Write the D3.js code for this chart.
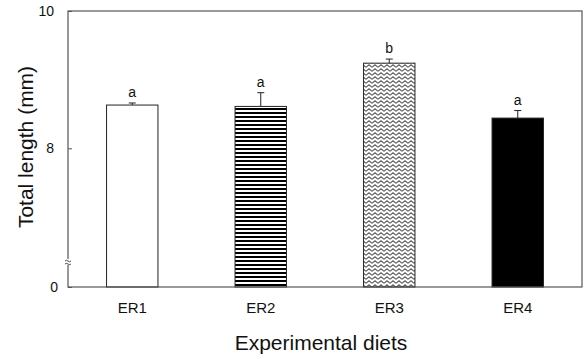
<!DOCTYPE html>
<html>
<head>
<meta charset="utf-8">
<script src="https://cdn.jsdelivr.net/npm/d3@7"></script>
<style>
  body { margin: 0; background: #fff; }
  text { font-family: "Liberation Sans", Arial, sans-serif; fill: #111; }
</style>
</head>
<body>
<svg width="585" height="359"></svg>
<script>
// data
const diets = ['ER1', 'ER2', 'ER3', 'ER4'];
const means = [8.63, 8.61, 9.24, 8.44];
const sds = [0.03, 0.2, 0.06, 0.11];
const letters = ['a', 'a', 'b', 'a'];
const yTicks = [0, 8, 10];

const svg = d3.select('svg');
const margin = {top: 11, right: 3, bottom: 72, left: 68};
const width = 585, height = 359;

// broken axis : 0 -> 8 squeezed in the same room as 8 -> 10
const yScale = d3.scaleLinear()
  .domain([0, 8, 10])
  .range([height - margin.bottom, 148.3, margin.top]);

const xScale = d3.scaleBand()
  .domain(diets)
  .range([margin.left, width - margin.right])
  .paddingInner(0.6)
  .paddingOuter(0.3);

const defs = svg.append('defs');

// horizontal stripes for ER2
const stripes = defs.append('pattern')
  .attr('id', 'stripes')
  .attr('patternUnits', 'userSpaceOnUse')
  .attr('width', 8).attr('height', 4);
stripes.append('rect').attr('width', 8).attr('height', 4).attr('fill', '#fff');
stripes.append('rect').attr('y', 0).attr('width', 8).attr('height', 2).attr('fill', '#000');

// zigzag for ER3
const zig = defs.append('pattern')
  .attr('id', 'zigzag')
  .attr('patternUnits', 'userSpaceOnUse')
  .attr('width', 6).attr('height', 4);
zig.append('rect').attr('width', 6).attr('height', 4).attr('fill', '#fff');
zig.append('path')
  .attr('d', 'M0,3.3 L3,0.8 L6,3.3')
  .attr('fill', 'none')
  .attr('stroke', '#666')
  .attr('stroke-width', 1.2);

const fills = ['#fff', 'url(#stripes)', 'url(#zigzag)', '#000'];

const g = svg.append('g');

// bars
g.selectAll('rect.bar').data(diets)
  .enter().append('rect')
    .attr('class', 'bar')
    .attr('x', d => xScale(d))
    .attr('y', (d, i) => yScale(means[i]))
    .attr('width', xScale.bandwidth())
    .attr('height', (d, i) => yScale(0) - yScale(means[i]))
    .attr('fill', (d, i) => fills[i])
    .attr('stroke', '#222')
    .attr('stroke-width', 1);

// error bars
const eb = g.selectAll('g.err').data(diets)
  .enter().append('g').attr('class', 'err');
eb.append('line')
  .attr('x1', d => xScale(d) + xScale.bandwidth() / 2)
  .attr('x2', d => xScale(d) + xScale.bandwidth() / 2)
  .attr('y1', (d, i) => yScale(means[i]))
  .attr('y2', (d, i) => yScale(means[i] + sds[i]))
  .attr('stroke', '#222');
eb.append('line')
  .attr('x1', d => xScale(d) + xScale.bandwidth() / 2 - 3.5)
  .attr('x2', d => xScale(d) + xScale.bandwidth() / 2 + 3.5)
  .attr('y1', (d, i) => yScale(means[i] + sds[i]))
  .attr('y2', (d, i) => yScale(means[i] + sds[i]))
  .attr('stroke', '#222');

// significance letters
g.selectAll('text.sig').data(diets)
  .enter().append('text')
    .attr('class', 'sig')
    .attr('x', d => xScale(d) + xScale.bandwidth() / 2)
    .attr('y', (d, i) => yScale(means[i] + sds[i]) - 6)
    .attr('text-anchor', 'middle')
    .style('font-size', '14px')
    .text((d, i) => letters[i]);

// frame
svg.append('rect')
  .attr('x', margin.left)
  .attr('y', margin.top)
  .attr('width', width - margin.right - margin.left)
  .attr('height', yScale(0) - margin.top)
  .attr('fill', 'none')
  .attr('stroke', '#555')
  .attr('stroke-width', 1.2);

// y axis ticks
const yAxis = svg.append('g')
  .attr('transform', `translate(${margin.left},0)`)
  .call(d3.axisRight(yScale).tickValues(yTicks).tickSize(4).tickFormat(''));
yAxis.select('.domain').remove();
yAxis.selectAll('line').attr('stroke', '#555');

svg.selectAll('text.ytick').data(yTicks)
  .enter().append('text')
    .attr('class', 'ytick')
    .attr('x', d => d === 0 ? 58 : 54)
    .attr('y', d => yScale(d))
    .attr('dy', '0.35em')
    .attr('text-anchor', 'end')
    .style('font-size', '14px')
    .text(d => d);

// axis break mark
svg.append('rect')
  .attr('x', margin.left - 2).attr('y', 259)
  .attr('width', 4).attr('height', 6)
  .attr('fill', '#fff');
svg.append('path')
  .attr('d', `M${margin.left - 3},261 q1.5,-1.5 3,0 t3,0 M${margin.left - 3},264 q1.5,-1.5 3,0 t3,0`)
  .attr('fill', 'none')
  .attr('stroke', '#333')
  .attr('stroke-width', 0.9);

// x labels
const xAxis = svg.append('g')
  .attr('transform', `translate(0,${yScale(0)})`)
  .call(d3.axisBottom(xScale).tickSize(0).tickPadding(15));
xAxis.select('.domain').remove();
xAxis.selectAll('text')
  .style('font-family', '"Liberation Sans", Arial, sans-serif')
  .style('font-size', '15px')
  .attr('fill', '#111');

// axis titles
svg.append('text')
  .attr('x', 321)
  .attr('y', 350)
  .attr('text-anchor', 'middle')
  .style('font-size', '21px')
  .text('Experimental diets');

svg.append('text')
  .attr('transform', `translate(33,147) rotate(-90)`)
  .attr('text-anchor', 'middle')
  .style('font-size', '21px')
  .text('Total length (mm)');
</script>
</body>
</html>
